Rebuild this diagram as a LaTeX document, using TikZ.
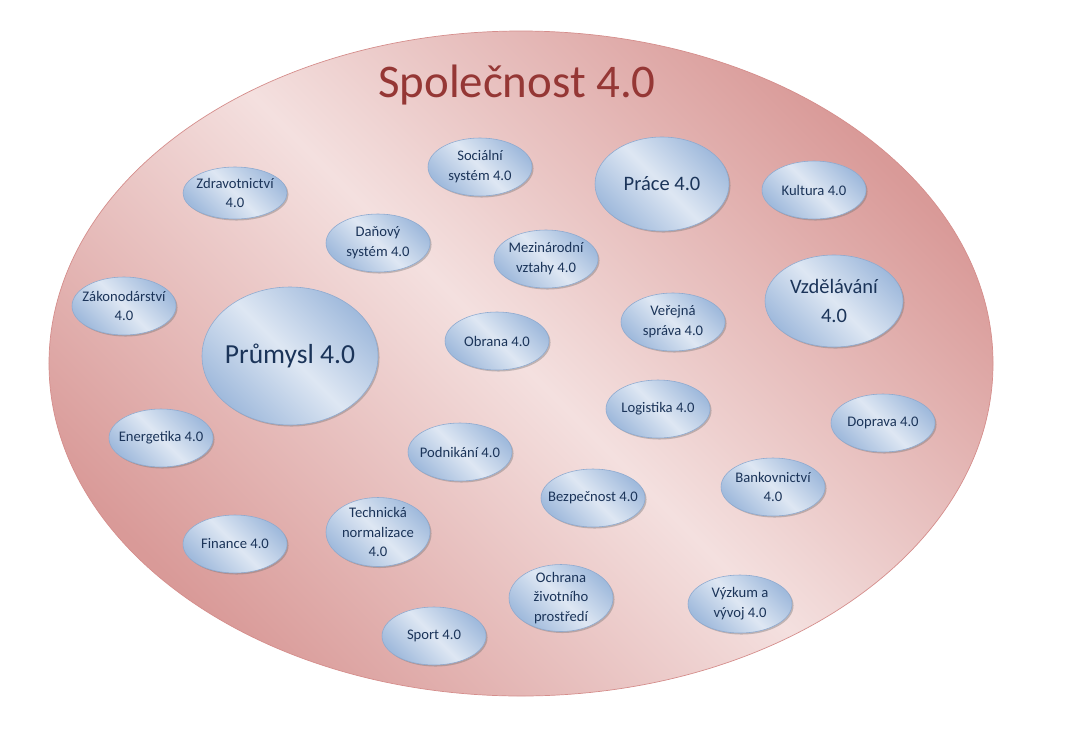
\documentclass[tikz,border=0pt]{standalone}
\usepackage{fontspec}
\setmainfont{Carlito}
\usetikzlibrary{
	shapes.geometric,
	shadows
}
\definecolor{titlered}{HTML}{953735}
\definecolor{rosedark}{HTML}{D99A98}
\definecolor{roselight}{HTML}{F4E0DF}
\definecolor{roseline}{HTML}{D58E8C}
\definecolor{bluedark}{HTML}{A0BADC}
\definecolor{bluelight}{HTML}{DEE7F3}
\definecolor{blueline}{HTML}{8EAAD0}
\definecolor{navytext}{HTML}{1B3459}

\begin{document}
\begin{tikzpicture}[
			x=0.3mm,y=-0.3mm,
			society/.style={
				ellipse,
				draw=roseline,
				line width=0.6pt,
				top color=rosedark,
				bottom color=rosedark,
				middle color=roselight,
				shading angle=-45,
				minimum width=283.2mm,
				minimum height=199.5mm
			},
			topic/.style={
				ellipse,
				draw=blueline,
				line width=0.5pt,
				top color=bluedark,
				bottom color=bluedark,
				middle color=bluelight,
				shading angle=-45,
				drop shadow={shadow xshift=1.3pt,shadow yshift=-1.3pt,opacity=0.4,fill=black!55},
				minimum width=31.2mm,
				minimum height=17.4mm,
				inner xsep=-10pt,
				inner ysep=-4pt,
				align=center,
				text=navytext,
				font=\fontsize{12.5}{17}\selectfont
			},
			bigtopic/.style={
				topic,
				font=\fontsize{17.5}{24}\selectfont
			}
			]
			
			\useasboundingbox (0,0) rectangle (1067,744);
			
			\node[society] (society) at (521,363.5) {};
			
			\node[anchor=base,text=titlered,font=\fontsize{40}{48}\selectfont] (title) at (517,97)
			{Společnost 4.0};
			
			\node[topic,minimum height=15.6mm] (zdrav) at (235,193)
			{Zdravotnictví\\4.0};
			
			\node[topic] (social) at (480,167)
			{Sociální\\systém 4.0};
			
			\node[topic] (dan) at (378,243)
			{Daňový\\systém 4.0};
			
			\node[topic] (mezin) at (546,259)
			{Mezinárodní\\vztahy 4.0};
			
			\node[bigtopic,minimum width=40.2mm,minimum height=28.2mm] (prace) at (662,184)
			{Práce 4.0};
			
			\node[topic] (kultura) at (814,190)
			{Kultura 4.0};
			
			\node[bigtopic,minimum width=41.4mm,minimum height=27.6mm] (vzdel) at (834,301)
			{Vzdělávání\\4.0};
			
			\node[topic] (verejna) at (673,322)
			{Veřejná\\správa 4.0};
			
			\node[topic] (zakon) at (124,306)
			{Zákonodárství\\4.0};
			
			\node[bigtopic,minimum width=52.8mm,minimum height=41.4mm,font=\fontsize{23.5}{28}\selectfont] (prumysl) at (290,356)
			{Průmysl 4.0};
			
			\node[topic] (energ) at (161,438)
			{Energetika 4.0};
			
			\node[topic] (obrana) at (497,341)
			{Obrana 4.0};
			
			\node[topic] (podnik) at (460,452)
			{Podnikání 4.0};
			
			\node[topic] (finance) at (235,544)
			{Finance 4.0};
			
			\node[topic,minimum height=20.7mm] (techn) at (378,532)
			{Technická\\normalizace\\4.0};
			
			\node[topic] (sport) at (434,636)
			{Sport 4.0};
			
			\node[topic] (logist) at (658,409)
			{Logistika 4.0};
			
			\node[topic] (doprava) at (883,423)
			{Doprava 4.0};
			
			\node[topic] (bezpec) at (593,498)
			{Bezpečnost 4.0};
			
			\node[topic] (bank) at (773,487)
			{Bankovnictví\\4.0};
			
			\node[topic,minimum height=20.1mm] (ochrana) at (561,598)
			{Ochrana\\životního\\prostředí};
			
			\node[topic] (vyzkum) at (740,604)
			{Výzkum a\\vývoj 4.0};
			
		\end{tikzpicture}
\end{document}
